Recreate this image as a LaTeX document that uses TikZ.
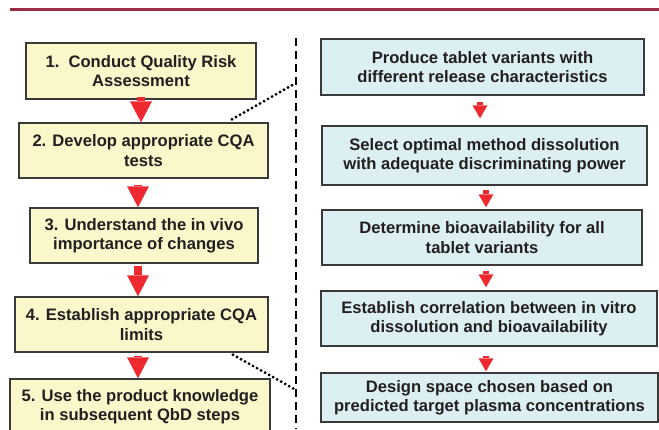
\documentclass[tikz,border=0pt]{standalone}
\usepackage{fontspec}
\setmainfont{Liberation Sans}
\usetikzlibrary{arrows.meta}
\definecolor{rulered}{HTML}{9B2E42}
\definecolor{boxyellow}{HTML}{FAF7CB}
\definecolor{boxblue}{HTML}{DCEFF3}
\definecolor{arrowred}{HTML}{EE2A30}
\definecolor{boxedge}{HTML}{3A3A3A}
\definecolor{inkgray}{HTML}{231F20}

\begin{document}
\begin{tikzpicture}[x=1pt, y=-1pt,
	lbox/.style={rectangle, draw=boxedge, line width=1.4pt, fill=boxyellow, text=inkgray, font=\bfseries\fontsize{16.6}{19.4}\selectfont, align=center, inner sep=0pt},
	rbox/.style={lbox, fill=boxblue},
	bigarrow/.style={arrowred, line width=8.5pt, -{Triangle[length=21pt, width=22pt, line width=0pt]}},
	smallarrow/.style={arrowred, line width=6pt, -{Triangle[length=13pt, width=15pt, line width=0pt]}},
	divider/.style={black, line width=2.8pt, dash pattern=on 8pt off 5pt},
	dotline/.style={black, line width=3.2pt, line cap=round, dash pattern=on 0pt off 4.6pt}]
	\clip (0,0) rectangle (659,429);
	\coordinate (rulel) at (10,9.5);
	\coordinate (ruler) at (659,9.5);
	\draw[rulered, line width=2.6pt] (rulel) -- (ruler);
	% left column
	\node[lbox, minimum width=230pt, minimum height=56pt] (L1) at (141,71) {1.\ \ Conduct Quality Risk\\Assessment};
	\node[lbox, minimum width=249pt, minimum height=55pt] (L2) at (143.5,150.5) {2. Develop appropriate CQA\\tests};
	\node[lbox, minimum width=228pt, minimum height=55pt] (L3) at (144,235.5) {3. Understand the in vivo\\importance of changes};
	\node[lbox, minimum width=253pt, minimum height=55pt] (L4) at (141.5,324.5) {4. Establish appropriate CQA\\limits};
	\node[lbox, minimum width=260pt, minimum height=55pt] (L5) at (140,406.5) {5. Use the product knowledge\\in subsequent QbD steps};
	\draw[bigarrow] ([yshift=3pt]L1.south) -- (L1.south |- L2.north);
	\draw[bigarrow] ([xshift=-5.5pt, yshift=-6pt]L2.south) -- ([xshift=-5.5pt]L2.south |- L3.north);
	\draw[bigarrow] ([xshift=-6pt, yshift=-2pt]L3.south) -- ([xshift=-6pt]L3.south |- L4.north);
	\draw[bigarrow] ([xshift=-3.5pt, yshift=-3pt]L4.south) -- ([xshift=-3.5pt]L4.south |- L5.north);
	% divider
	\coordinate (vtop) at (296,38);
	\coordinate (vbot) at (296,429);
	\draw[divider] (vtop) -- (vbot);
	\coordinate (d1) at (296,83);
	\coordinate (d2) at (296,390);
	\draw[dotline] ([xshift=88.5pt, yshift=3pt]L2.north) -- (d1);
	\draw[dotline] ([xshift=91.5pt, yshift=-2pt]L4.south) -- (d2);
	% right column
	\node[rbox, minimum width=323pt, minimum height=56pt] (R1) at (482.5,67) {Produce tablet variants with\\different release characteristics};
	\node[rbox, minimum width=325pt, minimum height=59pt] (R2) at (484.5,155.5) {Select optimal method dissolution\\with adequate discriminating power};
	\node[rbox, minimum width=320pt, minimum height=55pt] (R3) at (482,237.5) {Determine bioavailability for all\\tablet variants};
	\node[rbox, minimum width=336pt, minimum height=55pt] (R4) at (489,318.5) {Establish correlation between in vitro\\dissolution and bioavailability};
	\node[rbox, minimum width=337pt, minimum height=49pt] (R5) at (489.5,397.5) {Design space chosen based on\\predicted target plasma concentrations};
	\draw[smallarrow] ([xshift=-2.5pt, yshift=-6pt]R1.south) -- ([xshift=-2.5pt, yshift=7pt]R1.south |- R2.north);
	\draw[smallarrow] ([xshift=1.5pt, yshift=-4pt]R2.south) -- ([xshift=1.5pt, yshift=2pt]R2.south |- R3.north);
	\draw[smallarrow] ([xshift=4pt, yshift=-5pt]R3.south) -- ([xshift=4pt, yshift=3pt]R3.south |- R4.north);
	\draw[smallarrow] ([xshift=-3pt, yshift=-9pt]R4.south) -- ([xshift=-3pt, yshift=1pt]R4.south |- R5.north);
\end{tikzpicture}
\end{document}
